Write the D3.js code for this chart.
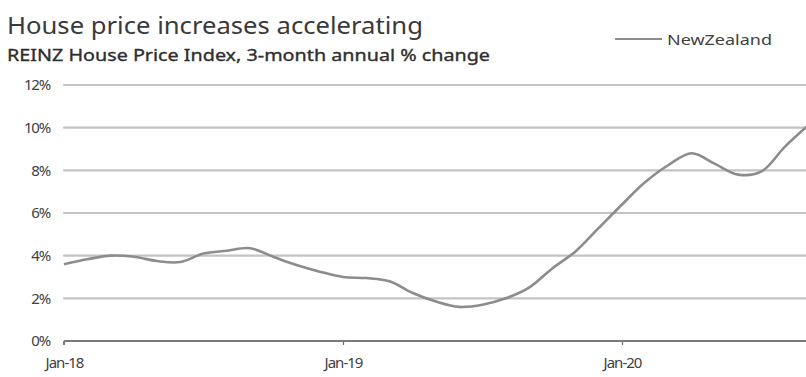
<!DOCTYPE html>
<html>
<head>
<meta charset="utf-8">
<script src="https://cdn.jsdelivr.net/npm/d3@7"></script>
<style>
  html, body { margin: 0; padding: 0; background: #fff; }
  svg { display: block; font-family: "Noto Sans", "Open Sans", sans-serif; }
</style>
</head>
<body>
<svg id="chart" width="806" height="377"></svg>
<script>
// REINZ House Price Index, 3-month annual % change
const months = [
  "Jan-18","Feb-18","Mar-18","Apr-18","May-18","Jun-18","Jul-18","Aug-18","Sep-18","Oct-18","Nov-18","Dec-18",
  "Jan-19","Feb-19","Mar-19","Apr-19","May-19","Jun-19","Jul-19","Aug-19","Sep-19","Oct-19","Nov-19","Dec-19",
  "Jan-20","Feb-20","Mar-20","Apr-20","May-20","Jun-20","Jul-20","Aug-20","Sep-20"
];
const newZealand = [
  3.6, 3.83, 4.0, 3.95, 3.75, 3.7, 4.1, 4.23, 4.35, 3.95, 3.56, 3.25,
  3.0, 2.95, 2.8, 2.25, 1.85, 1.6, 1.7, 2.0, 2.5, 3.4, 4.2, 5.3,
  6.4, 7.45, 8.25, 8.8, 8.3, 7.8, 7.95, 9.1, 10.1
];
const yTicks = [0, 2, 4, 6, 8, 10, 12];
const xTicks = ["Jan-18", "Jan-19", "Jan-20"];
const seriesName = "NewZealand";
const title = "House price increases accelerating";
const subtitle = "REINZ House Price Index, 3-month annual % change";

const svg = d3.select("#chart");
const plotLeft = 64, plotRight = 808, plotTop = 85, plotBottom = 341;

const x = d3.scalePoint().domain(months).range([plotLeft, plotRight]);
const y = d3.scaleLinear().domain([0, 12]).range([plotBottom, plotTop]);

const textColor = "#404040";

// Titles
svg.append("text").attr("x", 7).attr("y", 34)
  .attr("font-size", 24).attr("fill", "#3a3a3a")
  .attr("textLength", 416).attr("lengthAdjust", "spacingAndGlyphs")
  .text(title);
svg.append("text").attr("x", 7).attr("y", 61)
  .attr("font-size", 17).attr("fill", "#2e2e2e")
  .attr("stroke", "#2e2e2e").attr("stroke-width", 0.35)
  .attr("textLength", 483).attr("lengthAdjust", "spacingAndGlyphs")
  .text(subtitle);

// Legend
const lg = svg.append("g");
lg.append("line").attr("x1", 615).attr("x2", 662).attr("y1", 39).attr("y2", 39)
  .attr("stroke", "#8c8c8c").attr("stroke-width", 2);
lg.append("text").attr("x", 667).attr("y", 45)
  .attr("font-size", 14).attr("fill", textColor)
  .attr("textLength", 105).attr("lengthAdjust", "spacingAndGlyphs")
  .text(seriesName);

// Horizontal gridlines
svg.append("g").selectAll("line")
  .data(yTicks.filter(d => d !== 0))
  .join("line")
  .attr("x1", plotLeft).attr("x2", 806)
  .attr("y1", d => y(d)).attr("y2", d => y(d))
  .attr("stroke", "#c4c4c4").attr("stroke-width", 2.2)
  .attr("stroke-linecap", "round");

// Y axis labels
const yAxis = svg.append("g").attr("transform", `translate(${plotLeft},0)`)
  .call(d3.axisLeft(y).tickValues(yTicks).tickFormat(d => d + "%").tickSize(0).tickPadding(14));
yAxis.select(".domain").remove();
yAxis.selectAll("text").attr("font-size", 15).attr("fill", textColor)
  .attr("font-family", "\"Noto Sans\", sans-serif").attr("letter-spacing", -1.2);

// X axis
const xAxis = svg.append("g").attr("transform", `translate(0,${plotBottom})`)
  .call(d3.axisBottom(x).tickValues(xTicks).tickSize(4).tickPadding(12));
xAxis.select(".domain").remove();
xAxis.selectAll(".tick line").attr("stroke", "#6e6e6e").attr("stroke-width", 1.2);
xAxis.selectAll("text").attr("font-size", 15).attr("fill", textColor)
  .attr("font-family", "\"Noto Sans\", sans-serif").attr("letter-spacing", -1);
xAxis.append("line").attr("x1", plotLeft).attr("x2", 806).attr("y1", 0).attr("y2", 0)
  .attr("stroke", "#7a7a7a").attr("stroke-width", 2);
xAxis.append("line").attr("x1", plotLeft).attr("x2", plotLeft).attr("y1", 0).attr("y2", 4)
  .attr("stroke", "#7a7a7a").attr("stroke-width", 2);

// Series line
const line = d3.line()
  .x((d, i) => x(months[i]))
  .y(d => y(d))
  .curve(d3.curveCatmullRom.alpha(0.5));
svg.append("path").datum(newZealand)
  .attr("d", line)
  .attr("fill", "none")
  .attr("stroke", "#8c8c8c")
  .attr("stroke-width", 2.6)
  .attr("stroke-linejoin", "round");
</script>
</body>
</html>
